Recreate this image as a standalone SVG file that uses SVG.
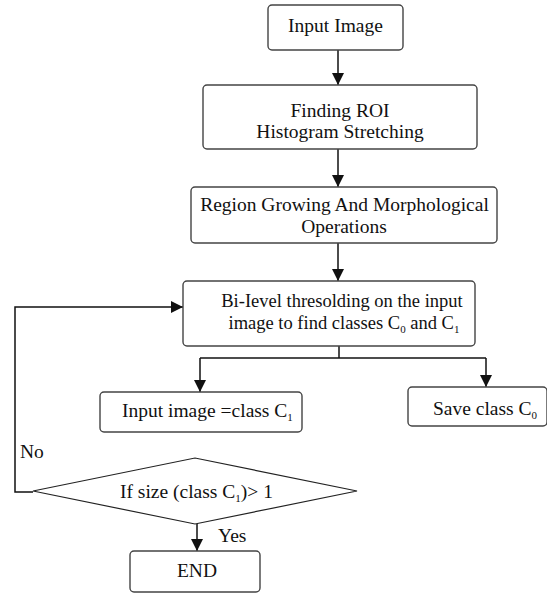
<svg xmlns="http://www.w3.org/2000/svg" width="547" height="594" viewBox="0 0 547 594">
<style>
.box{fill:#fff;stroke:#444;stroke-width:1.4}
.t{font-family:"Liberation Serif","Times New Roman",serif;font-size:19.5px;fill:#111}
.s{font-size:18.5px}
.c{text-anchor:middle}
.sub{font-size:11px}
.ln{fill:none;stroke:#111;stroke-width:1.5}
</style>
<defs>
<marker id="ah" viewBox="0 0 12 12" refX="12" refY="6" markerWidth="12" markerHeight="12" markerUnits="userSpaceOnUse" orient="auto">
<path d="M0,0 L12,6 L0,12 Z" fill="#111"/>
</marker>
</defs>
<rect width="547" height="594" fill="#fff"/>
<g id="connectors">
<path class="ln" d="M338,50 V85" marker-end="url(#ah)"/>
<path class="ln" d="M338,149 V187" marker-end="url(#ah)"/>
<path class="ln" d="M338,243 V281" marker-end="url(#ah)"/>
<path class="ln" d="M339,346 V358"/>
<path class="ln" d="M200,358 H486"/>
<path class="ln" d="M200,358 V392" marker-end="url(#ah)"/>
<path class="ln" d="M486,358 V387" marker-end="url(#ah)"/>
<path class="ln" d="M33,492 H15 V307 H183" marker-end="url(#ah)"/>
<path class="ln" d="M197,524 V551" marker-end="url(#ah)"/>
<text class="t" x="20" y="458">No</text>
<text class="t" x="218" y="542">Yes</text>
</g>
<g id="input-image">
<rect class="box" x="268" y="5" width="135" height="45" rx="4"/>
<text class="t c" x="335.5" y="32">Input Image</text>
</g>
<g id="finding-roi">
<rect class="box" x="203" y="85" width="274" height="64" rx="4"/>
<text class="t c" x="340" y="117">Finding ROI</text>
<text class="t c" x="340" y="138">Histogram Stretching</text>
</g>
<g id="region-growing">
<rect class="box" x="191" y="187" width="306" height="56" rx="4"/>
<text class="t c" x="344.5" y="211">Region Growing And Morphological</text>
<text class="t c" x="344" y="233">Operations</text>
</g>
<g id="bilevel">
<rect class="box" x="183" y="281" width="292" height="65" rx="4"/>
<text class="t s c" x="342" y="307">Bi-Ievel thresolding on the input</text>
<text class="t s c" x="344" y="329">image to find classes C<tspan class="sub" dy="4">0</tspan><tspan dy="-4"> and C</tspan><tspan class="sub" dy="4">1</tspan></text>
</g>
<g id="input-class">
<rect class="box" x="100" y="392" width="202" height="40" rx="4"/>
<text class="t" x="122" y="417">Input image =class C<tspan class="sub" dy="4">1</tspan></text>
</g>
<g id="save-class">
<rect class="box" x="408" y="387" width="139" height="39" rx="4"/>
<text class="t" x="433" y="415">Save class C<tspan class="sub" dy="4">0</tspan></text>
</g>
<g id="decision">
<polygon points="33,491 195,458 357,491 195,524" fill="#fff" stroke="#222" stroke-width="1.2"/>
<text class="t" x="120" y="498">If size (class C<tspan class="sub" dy="4">1</tspan><tspan dy="-4">)&gt; 1</tspan></text>
</g>
<g id="end">
<rect class="box" x="130" y="551" width="130" height="41" rx="4"/>
<text class="t c" x="197" y="577">END</text>
</g>
</svg>
